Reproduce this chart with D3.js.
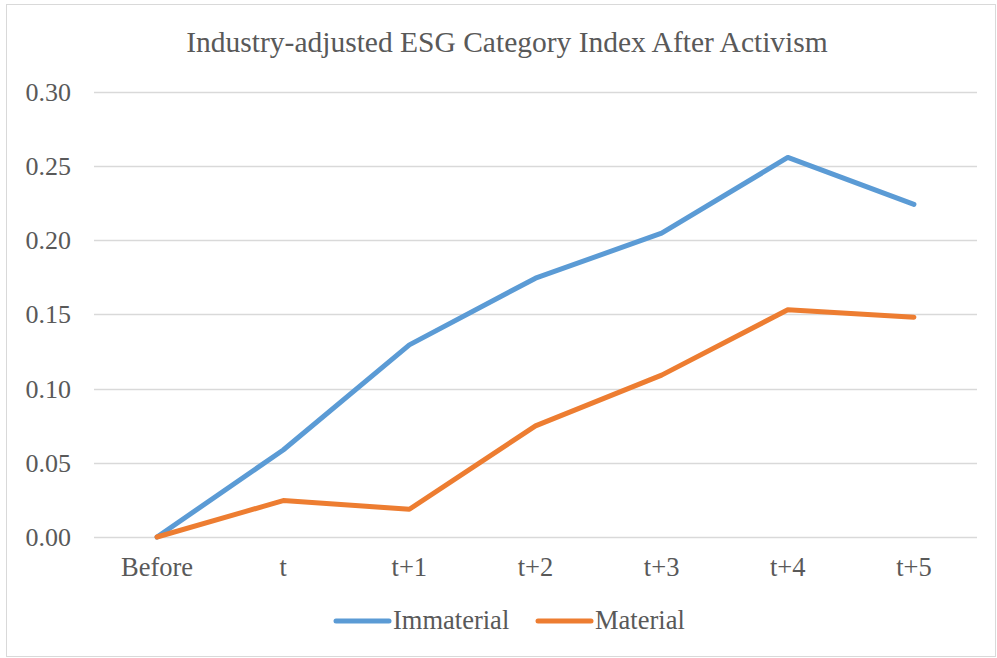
<!DOCTYPE html>
<html>
<head>
<meta charset="utf-8">
<script src="https://cdn.jsdelivr.net/npm/d3@7"></script>
<style>
  body { margin: 0; background: #fff; }
  svg text { font-family: "Liberation Serif", "Times New Roman", serif; fill: #595959; }
</style>
</head>
<body>
<div id="chart"></div>
<script>
var categories = ["Before", "t", "t+1", "t+2", "t+3", "t+4", "t+5"];
var immaterial = [0, 0.0586, 0.1294, 0.1743, 0.2046, 0.2556, 0.224];
var material = [0, 0.0245, 0.0187, 0.0748, 0.109, 0.153, 0.148];
var yTicks = [0, 0.05, 0.10, 0.15, 0.20, 0.25, 0.30];
var seriesNames = ["Immaterial", "Material"];
var colours = ["#5B9BD5", "#ED7D31"];

var width = 997, height = 658;
var svg = d3.select("#chart").append("svg")
  .attr("width", width)
  .attr("height", height);

// chart border
svg.append("rect")
  .attr("x", 6.5).attr("y", 4.5)
  .attr("width", 989).attr("height", 652)
  .attr("fill", "none")
  .attr("stroke", "#d9d9d9");

var x = d3.scalePoint().domain(categories).range([94, 977]).padding(0.5);
var y = d3.scaleLinear().domain([0, 0.3]).range([537, 91.5]);

// gridlines
svg.append("g").selectAll("line")
  .data(yTicks)
  .enter().append("line")
  .attr("x1", 94).attr("x2", 977)
  .attr("y1", d => Math.round(y(d)) + 0.5)
  .attr("y2", d => Math.round(y(d)) + 0.5)
  .attr("stroke", "#d9d9d9")
  .attr("stroke-width", 1.3);

// y labels
svg.append("g").selectAll("text")
  .data(yTicks)
  .enter().append("text")
  .attr("x", 71)
  .attr("y", d => y(d))
  .attr("dy", "0.35em")
  .attr("text-anchor", "end")
  .style("font-size", "26px")
  .text(d => d3.format(".2f")(d));

// x labels
svg.append("g").selectAll("text")
  .data(categories)
  .enter().append("text")
  .attr("x", d => x(d))
  .attr("y", 576)
  .attr("text-anchor", "middle")
  .style("font-size", "26.5px")
  .text(d => d);

// title
svg.append("text")
  .attr("x", 507)
  .attr("y", 52)
  .attr("text-anchor", "middle")
  .style("font-size", "29.5px")
  .text("Industry-adjusted ESG Category Index After Activism");

var line = d3.line()
  .x((d, i) => x(categories[i]))
  .y(d => y(d));

[immaterial, material].forEach(function (vals, i) {
  svg.append("path")
    .datum(vals)
    .attr("d", line)
    .attr("fill", "none")
    .attr("stroke", colours[i])
    .attr("stroke-width", 5)
    .attr("stroke-linecap", "round")
    .attr("stroke-linejoin", "round");
});

// legend
var legendX = [336, 538];
seriesNames.forEach(function (name, i) {
  var g = svg.append("g").attr("transform", "translate(" + legendX[i] + ",621)");
  g.append("line")
    .attr("x1", 0).attr("x2", 53)
    .attr("stroke", colours[i])
    .attr("stroke-width", 5)
    .attr("stroke-linecap", "round");
  g.append("text")
    .attr("x", 57)
    .attr("y", 8)
    .style("font-size", "26.5px")
    .text(name);
});
</script>
</body>
</html>
